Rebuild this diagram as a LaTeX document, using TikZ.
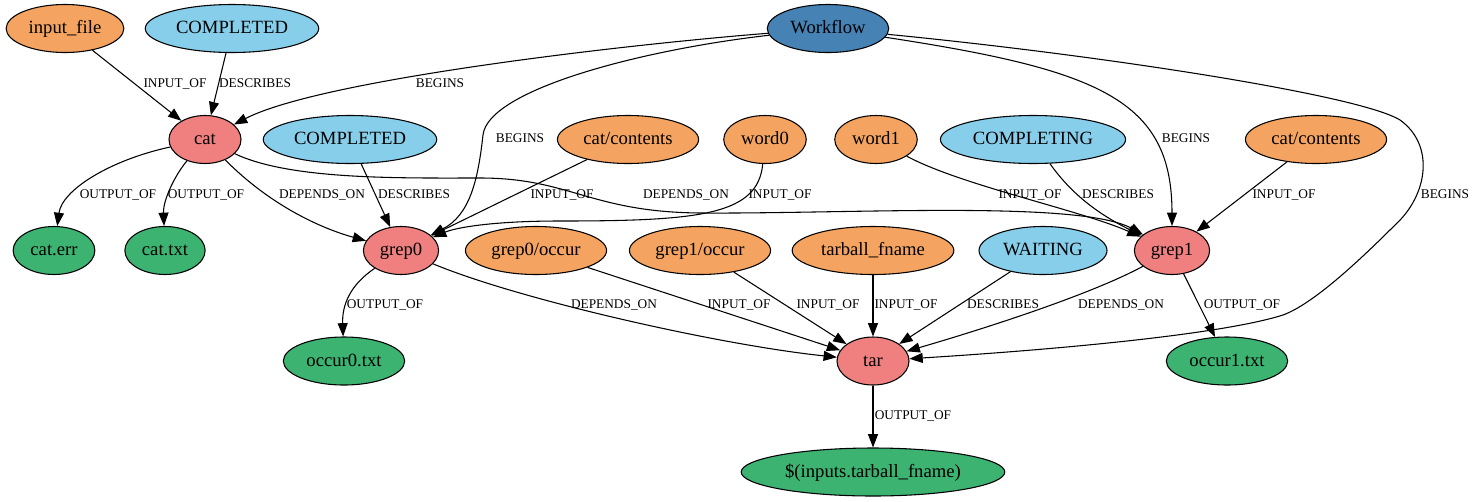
\documentclass[tikz,border=0pt]{standalone}
\usepackage[HTML]{xcolor}
\usepackage{fontspec}
\setmainfont{Liberation Serif}
\newfontfamily\graphfont{Liberation Serif}
\usetikzlibrary{shapes.geometric, arrows.meta}
\definecolor{sandybrown}{HTML}{F4A460}
\definecolor{skyblue}{HTML}{87CEEB}
\definecolor{lightcoral}{HTML}{F08080}
\definecolor{seagreen}{HTML}{3CB371}
\definecolor{steelblue}{HTML}{4682B4}

\begin{document}
\begin{tikzpicture}[x=0.75pt, y=-0.75pt,
  gnode/.style={ellipse, draw, line width=0.8pt, font=\graphfont\fontsize{14}{16}\selectfont,
    inner xsep=4pt, inner ysep=2pt, text height=10pt, text depth=2pt,
    minimum width=54pt, minimum height=36pt},
  infile/.style={gnode, fill=sandybrown},
  statusnode/.style={gnode, fill=skyblue},
  task/.style={gnode, fill=lightcoral},
  outfile/.style={gnode, fill=seagreen},
  elabel/.style={font=\graphfont\fontsize{10}{12}\selectfont, inner sep=0pt, text height=6.6pt, text depth=0pt},
  link/.style={-{Triangle[length=10pt,width=7.5pt]}, line width=0.8pt}]
\useasboundingbox (0,0) rectangle (1475,501);
% Row 1
\node[infile] (infile) at (65,28.5) {input\_file};
\node[statusnode] (done1) at (232,28.5) {COMPLETED};
\node[gnode, fill=steelblue] (wf) at (828,28.5) {Workflow};
% Row 2
\node[task] (cat) at (205,139.5) {cat};
\node[statusnode] (done2) at (350,139.5) {COMPLETED};
\node[infile] (cc1) at (628,139.5) {cat/contents};
\node[infile] (word0) at (765,139.5) {word0};
\node[infile] (word1) at (876,139.5) {word1};
\node[statusnode] (completing) at (1033,139.5) {COMPLETING};
\node[infile] (cc2) at (1316,139.5) {cat/contents};
% Row 3
\node[outfile] (caterr) at (54,250.5) {cat.err};
\node[outfile] (cattxt) at (165,250.5) {cat.txt};
\node[task] (grep0) at (401,250.5) {grep0};
\node[infile] (g0occ) at (536,250.5) {grep0/occur};
\node[infile] (g1occ) at (700,250.5) {grep1/occur};
\node[infile] (tarname) at (873,250.5) {tarball\_fname};
\node[statusnode] (waiting) at (1043,250.5) {WAITING};
\node[task] (grep1) at (1172,250.5) {grep1};
% Row 4
\node[outfile] (occ0) at (344,361) {occur0.txt};
\node[task] (tar) at (873,361) {tar};
\node[outfile] (occ1) at (1227,361) {occur1.txt};
% Row 5
\node[outfile] (tarout) at (873,472) {\$(inputs.tarball\_fname)};

% Edges into cat
\draw[link] (infile) -- (cat);
\draw[link] (done1) -- (cat);
\draw[link] (wf) .. controls (620,45) and (320,80) .. (cat);
% Edges out of cat
\draw[link] (cat) .. controls (110,160) and (62,190) .. (caterr);
\draw[link] (cat) .. controls (175,175) and (163,200) .. (cattxt);
\draw[link] (cat) .. controls (270,205) and (320,228) .. (grep0);
\draw[link] (cat) .. controls (290,180) and (400,178) .. (480,178)
  .. controls (570,178) and (590,212) .. (700,213)
  .. controls (850,214) and (1080,200) .. (grep1);
% Edges into grep0
\draw[link] (wf) .. controls (640,50) and (488,90) .. (483,135)
  .. controls (478,180) and (470,215) .. (grep0);
\draw[link] (done2) -- (grep0);
\draw[link] (cc1) -- (grep0);
\draw[link] (word0) .. controls (758,215) and (700,221) .. (560,221)
  .. controls (490,221) and (455,228) .. (grep0);
% Edges into grep1
\draw[link] (wf) .. controls (1100,70) and (1172,100) .. (grep1);
\draw[link] (word1) .. controls (960,185) and (1080,210) .. (grep1);
\draw[link] (completing) .. controls (1072,195) and (1100,215) .. (grep1);
\draw[link] (cc2) -- (grep1);
% Edges into tar
\draw[link] (grep0) .. controls (520,300) and (720,345) .. (tar);
\draw[link] (g0occ) -- (tar);
\draw[link] (g1occ) -- (tar);
\draw[link] (tarname) -- (tar);
\draw[link] (waiting) -- (tar);
\draw[link] (grep1) .. controls (1090,295) and (980,330) .. (tar);
\draw[link] (wf) .. controls (1100,55) and (1360,95) .. (1400,120)
  .. controls (1435,145) and (1428,195) .. (1395,225)
  .. controls (1350,270) and (1310,305) .. (1283,315)
  .. controls (1220,335) and (1050,350) .. (tar);
% Outputs
\draw[link] (grep0) .. controls (350,285) and (342,305) .. (occ0);
\draw[link] (grep1) -- (occ1);
\draw[link] (tar) -- (tarout);

% Edge labels
\node[elabel] (l1) at (175,83) {INPUT\_OF};
\node[elabel] (l2) at (255,83) {DESCRIBES};
\node[elabel] (l3) at (440,83) {BEGINS};
\node[elabel] (l4) at (520,138) {BEGINS};
\node[elabel] (l5) at (1186,138) {BEGINS};
\node[elabel] (l6) at (1445,194) {BEGINS};
\node[elabel] (l7) at (118,194) {OUTPUT\_OF};
\node[elabel] (l8) at (206,194) {OUTPUT\_OF};
\node[elabel] (l9) at (322,194) {DEPENDS\_ON};
\node[elabel] (l10) at (414,194) {DESCRIBES};
\node[elabel] (l11) at (562,194) {INPUT\_OF};
\node[elabel] (l12) at (686,194) {DEPENDS\_ON};
\node[elabel] (l13) at (780,194) {INPUT\_OF};
\node[elabel] (l14) at (1030,194) {INPUT\_OF};
\node[elabel] (l15) at (1118,194) {DESCRIBES};
\node[elabel] (l16) at (1284,194) {INPUT\_OF};
\node[elabel] (l17) at (385,304) {OUTPUT\_OF};
\node[elabel] (l18) at (614,304) {DEPENDS\_ON};
\node[elabel] (l19) at (739,304) {INPUT\_OF};
\node[elabel] (l20) at (828,304) {INPUT\_OF};
\node[elabel] (l21) at (906,304) {INPUT\_OF};
\node[elabel] (l22) at (1003,304) {DESCRIBES};
\node[elabel] (l23) at (1121,304) {DEPENDS\_ON};
\node[elabel] (l24) at (1242,304) {OUTPUT\_OF};
\node[elabel] (l25) at (913,415) {OUTPUT\_OF};
\end{tikzpicture}
\end{document}
